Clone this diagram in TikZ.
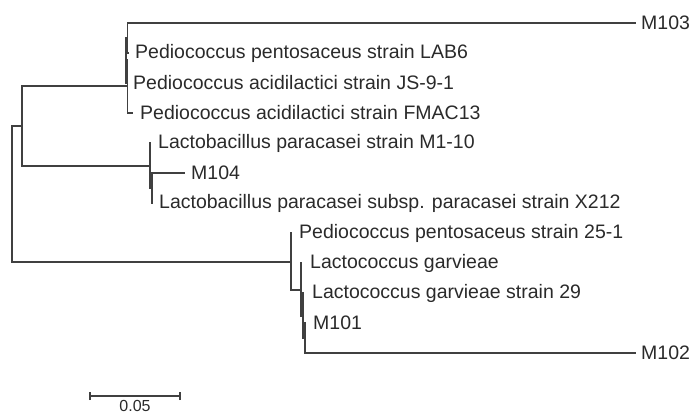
\documentclass[tikz,border=0pt]{standalone}
\usepackage{fontspec}
\setmainfont{Liberation Sans}
\usepackage{tikz}
\usetikzlibrary{positioning}
\definecolor{branchgray}{HTML}{404040}
\definecolor{labelgray}{HTML}{2a2a2a}
\tikzstyle{branch} = [draw=branchgray, line width=1.4pt]
\tikzstyle{taxon} = [anchor=west, inner sep=0pt, text=labelgray, font=\fontsize{19.5}{22}\selectfont]
\tikzstyle{tip} = [coordinate]

\begin{document}
\begin{tikzpicture}[x=1pt, y=-1pt]
        \useasboundingbox (0,0) rectangle (694,415);

        % 内部节点
        \coordinate (root) at (12,194);
        \coordinate (D) at (22,126);
        \coordinate (n1) at (127.5,38);
        \coordinate (n2) at (126,60);
        \coordinate (A) at (127.5,86);
        \coordinate (C) at (150,166);
        \coordinate (Cb) at (152,188);
        \coordinate (E) at (291,262);
        \coordinate (F) at (301,290);
        \coordinate (G) at (303,316);
        \coordinate (H) at (305,338);

        % 末端与标签
        \node [tip] (t103) at (636,23) {};
        \node [tip] (tLAB6) at (129,53) {};
        \node [tip] (tJS) at (128,83) {};
        \node [tip] (tFMAC) at (133,113) {};
        \node [tip] (tM110) at (151,143) {};
        \node [tip] (t104) at (185,173) {};
        \node [tip] (tX212) at (153,203) {};
        \node [tip] (t251) at (292,233) {};
        \node [tip] (tgar) at (302,263) {};
        \node [tip] (tgar29) at (304,293) {};
        \node [tip] (t101) at (306,323) {};
        \node [tip] (t102) at (636,353) {};

        \node [taxon, right=5pt of t103] (M103) {M103};
        \node [taxon, right=6pt of tLAB6] (LAB6) {Pediococcus pentosaceus strain LAB6};
        \node [taxon, right=5pt of tJS] (JS) {Pediococcus acidilactici strain JS-9-1};
        \node [taxon, right=7pt of tFMAC] (FMAC) {Pediococcus acidilactici strain FMAC13};
        \node [taxon, right=7pt of tM110] (M110) {Lactobacillus paracasei strain M1-10};
        \node [taxon, right=6pt of t104] (M104) {M104};
        \node [taxon, right=6pt of tX212] (X212) {Lactobacillus paracasei subsp. paracasei strain X212};
        \node [taxon, right=7pt of t251] (P251) {Pediococcus pentosaceus strain 25-1};
        \node [taxon, right=8pt of tgar] (gar) {Lactococcus garvieae};
        \node [taxon, right=8pt of tgar29] (gar29) {Lactococcus garvieae strain 29};
        \node [taxon, right=7pt of t101] (M101) {M101};
        \node [taxon, right=5pt of t102] (M102) {M102};

        % 分支
        \draw [branch] (root) |- (D);
        \draw [branch] (root) |- (E);
        \draw [branch] (D) |- (A);
        \draw [branch] (D) |- (C);
        \draw [branch] (A) |- (n2);
        \draw [branch] (A) |- (tFMAC);
        \draw [branch] (n2) |- (n1);
        \draw [branch] (n2) |- (tJS);
        \draw [branch] (n1) |- (t103);
        \draw [branch] (n1) |- (tLAB6);
        \draw [branch] (C) |- (tM110);
        \draw [branch] (C) |- (Cb);
        \draw [branch] (Cb) |- (t104);
        \draw [branch] (Cb) |- (tX212);
        \draw [branch] (E) |- (t251);
        \draw [branch] (E) |- (F);
        \draw [branch] (F) |- (tgar);
        \draw [branch] (F) |- (G);
        \draw [branch] (G) |- (tgar29);
        \draw [branch] (G) |- (H);
        \draw [branch] (H) |- (t101);
        \draw [branch] (H) |- (t102);

        % 标尺
        \coordinate (barL) at (90,396);
        \coordinate (barR) at (180,396);
        \draw [branch] (barL) -- (barR);
        \draw [branch] ([yshift=-4pt] barL) -- ([yshift=4pt] barL);
        \draw [branch] ([yshift=-4pt] barR) -- ([yshift=4pt] barR);
        \node [taxon, anchor=north, font=\fontsize{16}{18}\selectfont] (scale) at (135,400.5) {0.05};
\end{tikzpicture}
\end{document}
